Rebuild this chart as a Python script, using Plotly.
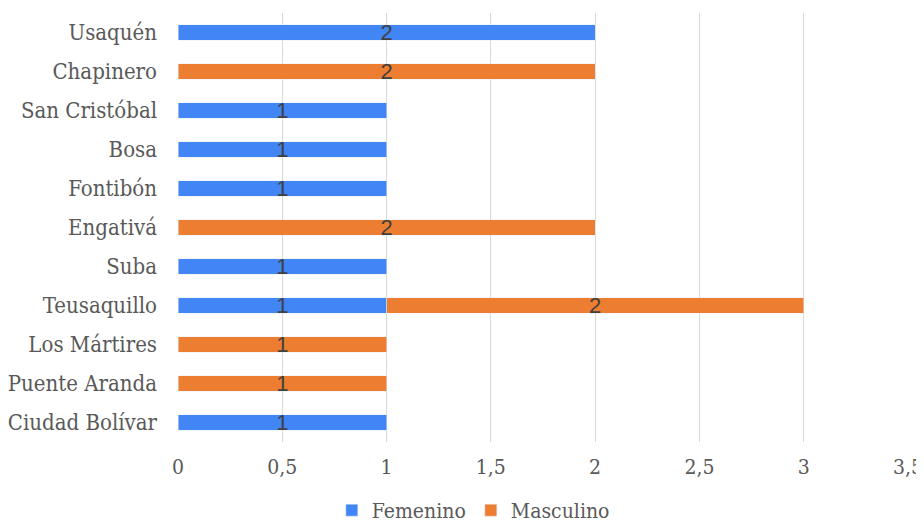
import plotly.graph_objects as go

localidades = ["Usaquén", "Chapinero", "San Cristóbal", "Bosa", "Fontibón", "Engativá",
               "Suba", "Teusaquillo", "Los Mártires", "Puente Aranda", "Ciudad Bolívar"]
femenino = [2, None, 1, 1, 1, None, 1, 1, None, None, 1]
masculino = [None, 2, None, None, None, 2, None, 2, 1, 1, None]
ticks = [0, 0.5, 1, 1.5, 2, 2.5, 3, 3.5]
tick_text = ["0", "0,5", "1", "1,5", "2", "2,5", "3", "3,5"]

serif = "DejaVu Serif Condensed"
label_font = dict(family="Arial, Liberation Sans, sans-serif", size=22, color="#404040")

fig = go.Figure()
fig.add_trace(go.Bar(y=localidades, x=femenino, name="Femenino", orientation="h",
                     marker_color="#4285f4", text=femenino, textposition="inside",
                     insidetextanchor="middle", textangle=0, constraintext="none",
                     textfont=label_font))
fig.add_trace(go.Bar(y=localidades, x=masculino, name="Masculino", orientation="h",
                     marker_color="#ed7d31", text=masculino, textposition="inside",
                     insidetextanchor="middle", textangle=0, constraintext="none",
                     textfont=label_font))

# page body has an 8px margin, so the figure is sized and offset for it
fig.update_layout(
    barmode="stack",
    bargap=0.6,
    width=916, height=523,
    margin=dict(l=170, r=16, t=5, b=89, autoexpand=False),
    plot_bgcolor="white",
    paper_bgcolor="white",
    font=dict(family=serif, size=22, color="#595959"),
    showlegend=True,
    legend=dict(orientation="h", xref="container", x=0.508, xanchor="center",
                yref="container", y=-0.005, yanchor="bottom",
                font=dict(family=serif, size=21, color="#595959"), traceorder="normal"),
    uniformtext=dict(minsize=10, mode="show"),
)
fig.update_xaxes(range=[0, 3.5], tickvals=ticks, ticktext=tick_text,
                 showgrid=True, gridcolor="#d9d9d9", gridwidth=1,
                 zeroline=False, showline=False, ticks="", ticklabelstandoff=10,
                 automargin=False, tickfont=dict(family=serif, size=21, color="#595959"))
fig.update_yaxes(autorange="reversed", showgrid=False, showline=False, ticks="",
                 ticklabelstandoff=20, automargin=False,
                 tickfont=dict(family=serif, size=22, color="#595959"))

fig.write_html("out.html")
